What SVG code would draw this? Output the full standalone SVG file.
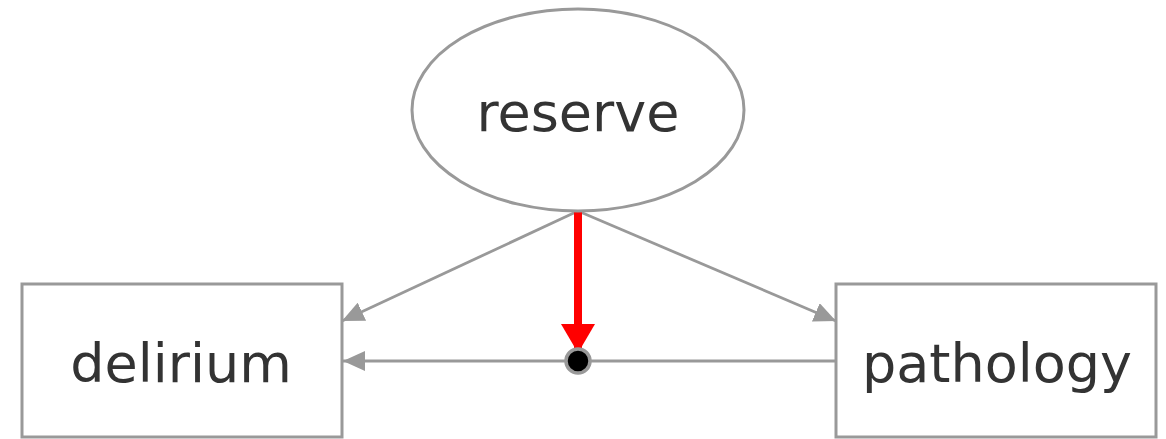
<svg xmlns="http://www.w3.org/2000/svg" width="1166" height="439" viewBox="0 0 1166 439">
<style>
.node{fill:#fff;stroke:#999;stroke-width:3}
.lbl{font-family:"DejaVu Sans",Verdana,sans-serif;font-size:54px;fill:#333;text-anchor:middle}
.edge{fill:none;stroke:#999;stroke-width:2.8}
</style>
<defs>
<marker id="ag" markerUnits="userSpaceOnUse" markerWidth="24" markerHeight="20" refX="22" refY="10" orient="auto">
<path d="M0,0 L22,10 L0,20 Z" fill="#999"/>
</marker>
<marker id="ar" markerUnits="userSpaceOnUse" markerWidth="30" markerHeight="34" refX="29" refY="17" orient="auto">
<path d="M0,0 L29,17 L0,34 Z" fill="#f00"/>
</marker>
</defs>
<rect width="1166" height="439" fill="#fff"/>
<g id="connectors">
<line class="edge" x1="578" y1="211" x2="342" y2="321" marker-end="url(#ag)"/>
<line class="edge" x1="578" y1="211" x2="836" y2="321" marker-end="url(#ag)"/>
<line class="edge" x1="836" y1="361" x2="343" y2="361" marker-end="url(#ag)"/>
<line x1="578" y1="211" x2="578" y2="353" stroke="#f00" stroke-width="8" marker-end="url(#ar)"/>
</g>
<g id="node-reserve">
<ellipse class="node" cx="578" cy="110" rx="166" ry="101"/>
<text class="lbl" x="578" y="131">reserve</text>
</g>
<g id="node-delirium">
<rect class="node" x="22" y="284" width="320" height="153"/>
<text class="lbl" x="181" y="382">delirium</text>
</g>
<g id="node-pathology">
<rect class="node" x="836" y="284" width="320" height="153"/>
<text class="lbl" x="997" y="382">pathology</text>
</g>
<g id="node-moderator">
<circle cx="578" cy="361" r="12" fill="#000" stroke="#999" stroke-width="3.5"/>
</g>
</svg>
